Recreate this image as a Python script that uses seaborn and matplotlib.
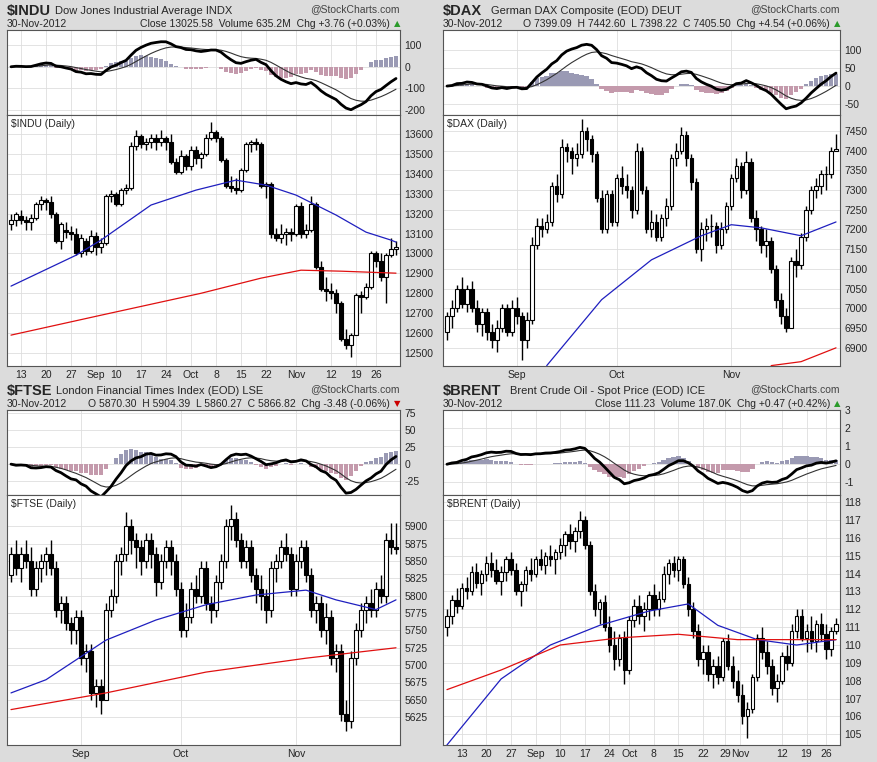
import numpy as np
import pandas as pd
import matplotlib
matplotlib.use("Agg")
import matplotlib.pyplot as plt
import seaborn as sns

sns.set_theme(style="white")
plt.rcParams['font.family'] = ['Liberation Sans', 'DejaVu Sans']

# ---- data (o, h, l, c) ----
indu_ohlc = [
    (13150,13200,13120,13170),(13170,13210,13140,13200),(13190,13220,13150,13170),(13170,13190,13120,13160),
    (13160,13200,13120,13180),(13180,13260,13170,13250),(13250,13290,13220,13270),
    (13270,13280,13220,13260),(13260,13290,13180,13200),(13200,13210,13050,13060),(13060,13160,13020,13150),(13120,13160,13080,13110),
    (13110,13140,13070,13100),(13100,13130,12990,13000),(13000,13100,12980,13080),(13060,13080,12990,13010),(13010,13120,13000,13090),
    (13090,13110,12990,13030),(13030,13080,13000,13050),(13050,13300,13040,13290),(13290,13320,13260,13300),
    (13300,13310,13240,13250),(13250,13330,13240,13320),(13320,13350,13300,13330),(13330,13560,13320,13540),(13540,13620,13520,13590),
    (13590,13600,13530,13550),(13550,13580,13520,13560),(13560,13600,13530,13580),(13580,13600,13520,13560),(13560,13620,13540,13580),
    (13580,13590,13520,13560),(13560,13600,13450,13460),(13460,13480,13400,13410),(13410,13520,13400,13490),(13490,13500,13420,13440),
    (13440,13540,13420,13520),(13520,13540,13450,13480),(13480,13510,13430,13500),(13500,13600,13490,13580),(13580,13660,13570,13610),
    (13610,13620,13560,13580),(13580,13590,13460,13470),(13470,13480,13330,13340),(13340,13390,13310,13330),(13330,13380,13300,13320),
    (13320,13430,13310,13420),(13420,13560,13410,13550),(13550,13570,13510,13560),(13560,13580,13520,13550),(13550,13560,13330,13340),
    (13340,13360,13280,13350),(13350,13360,13080,13100),(13100,13130,13060,13080),(13080,13150,13050,13100),(13100,13130,13040,13110),
    (13110,13130,13060,13100),
    (13100,13250,13090,13240),(13240,13260,13080,13100),(13100,13150,13080,13120),(13120,13290,13110,13250),
    (13250,13260,12920,12930),(12930,12960,12810,12820),(12820,12880,12760,12810),(12810,12850,12770,12800),
    (12800,12820,12700,12750),(12750,12760,12560,12570),(12570,12620,12520,12540),(12540,12600,12480,12590),
    (12590,12800,12590,12790),(12790,12810,12700,12780),(12780,12850,12770,12830),
    (12830,13010,12820,13000),
    (13000,13010,12930,12960),(12960,13000,12860,12880),(12880,13000,12750,12990),(12990,13080,12980,13020),(13020,13060,12990,13030),
]
dax_ohlc = [
    (6940,6990,6920,6980),(6980,7020,6950,7000),(7000,7060,6990,7050),(7050,7080,7000,7010),(7010,7060,6990,7050),
    (7050,7070,6990,7000),(7000,7020,6940,6960),(6960,7000,6930,6990),(6990,7000,6920,6940),(6940,6960,6900,6920),
    (6920,6970,6890,6950),(6950,7010,6940,7000),(7000,7010,6930,6940),(6940,7020,6930,7000),(7000,7030,6960,6980),
    (6980,6990,6870,6920),(6920,6990,6900,6970),(6970,7180,6960,7160),(7160,7230,7150,7210),(7210,7230,7180,7200),
    (7200,7240,7190,7220),(7220,7320,7210,7310),(7310,7340,7270,7290),(7290,7430,7280,7410),(7410,7420,7370,7400),
    (7400,7410,7340,7380),(7380,7420,7360,7390),(7390,7480,7380,7450),(7450,7460,7400,7430),(7430,7440,7370,7390),
    (7390,7400,7270,7280),(7280,7300,7190,7200),(7200,7300,7190,7290),(7290,7300,7210,7220),(7220,7340,7210,7330),
    (7330,7360,7290,7310),(7310,7340,7280,7300),(7300,7310,7230,7250),(7250,7420,7240,7400),(7400,7410,7290,7300),
    (7300,7310,7190,7200),(7200,7250,7180,7220),(7220,7240,7170,7180),(7180,7240,7170,7230),(7230,7280,7210,7260),
    (7260,7390,7250,7380),(7380,7420,7360,7400),(7400,7460,7390,7440),(7440,7450,7360,7380),(7380,7390,7300,7320),
    (7320,7330,7140,7150),(7150,7220,7120,7200),(7200,7230,7170,7210),(7210,7240,7180,7210),(7210,7220,7140,7160),
    (7160,7220,7150,7200),(7200,7270,7190,7260),(7260,7340,7250,7330),(7330,7380,7320,7360),(7360,7370,7280,7300),
    (7300,7400,7290,7370),(7370,7380,7220,7230),(7230,7250,7170,7200),(7200,7210,7140,7160),(7160,7200,7130,7170),
    (7170,7180,7090,7100),(7100,7110,7000,7020),(7020,7040,6960,6980),(6980,7000,6940,6950),(6950,7130,6950,7120),
    (7120,7150,7080,7110),(7110,7190,7100,7180),(7180,7260,7170,7250),(7250,7310,7240,7300),(7300,7330,7280,7310),
    (7310,7350,7290,7340),(7340,7360,7300,7340),(7340,7410,7330,7400),(7400,7443,7398,7405),
]
ftse_ohlc = [
    (5830,5870,5820,5860),(5860,5880,5830,5840),(5840,5870,5820,5860),(5860,5880,5840,5850),(5850,5870,5800,5810),
    (5810,5850,5800,5840),(5840,5860,5820,5850),(5850,5870,5830,5860),(5860,5880,5830,5840),(5840,5850,5770,5780),
    (5780,5800,5760,5790),(5790,5800,5750,5760),(5760,5770,5730,5750),(5750,5780,5730,5770),(5770,5780,5700,5710),
    (5710,5730,5690,5720),(5720,5730,5650,5660),(5660,5680,5640,5670),(5670,5680,5630,5650),(5650,5790,5650,5780),
    (5780,5810,5770,5800),(5800,5860,5790,5850),(5850,5870,5830,5860),(5860,5920,5850,5900),(5900,5910,5860,5880),
    (5880,5890,5840,5870),(5870,5880,5830,5850),(5850,5890,5840,5880),(5880,5890,5840,5860),(5860,5870,5800,5820),
    (5820,5860,5810,5850),(5850,5880,5840,5870),(5870,5880,5830,5850),(5850,5860,5800,5810),(5810,5820,5740,5750),
    (5750,5790,5740,5770),(5770,5820,5760,5810),(5810,5830,5790,5800),(5800,5850,5790,5840),(5840,5850,5780,5790),
    (5790,5800,5760,5780),(5780,5830,5770,5820),(5820,5860,5810,5850),(5850,5910,5840,5900),(5900,5930,5880,5910),
    (5910,5920,5870,5880),(5880,5890,5840,5850),(5850,5880,5840,5870),(5870,5880,5820,5830),(5830,5840,5790,5810),
    (5810,5830,5780,5800),(5800,5810,5760,5780),(5780,5850,5770,5840),(5840,5860,5820,5850),(5850,5880,5840,5870),
    (5870,5890,5850,5860),(5860,5870,5800,5810),(5810,5860,5800,5850),(5850,5880,5840,5870),(5870,5880,5820,5830),
    (5830,5840,5770,5780),(5780,5800,5760,5790),(5790,5800,5740,5750),(5750,5790,5730,5770),(5770,5780,5700,5710),
    (5710,5730,5690,5720),(5720,5730,5620,5630),(5630,5650,5605,5620),(5620,5720,5610,5710),(5710,5760,5700,5750),
    (5750,5790,5740,5780),(5780,5800,5760,5790),(5790,5810,5770,5780),(5780,5820,5770,5810),(5810,5830,5790,5800),
    (5800,5890,5790,5880),(5880,5905,5860,5870),(5870,5904,5860,5867),
]
brent_ohlc = [
    (111.0,112.0,110.5,111.6),(111.6,112.8,111.2,112.5),(112.5,113.2,111.8,112.2),(112.2,113.5,112.0,113.2),
    (113.2,113.8,112.6,113.0),(113.0,114.4,112.8,114.1),(114.1,114.6,113.2,113.5),(113.5,114.2,112.8,114.0),
    (114.0,115.0,113.6,114.6),(114.6,115.2,113.8,114.2),(114.2,114.8,113.4,113.6),(113.6,114.4,112.8,114.1),
    (114.1,115.0,113.6,114.8),(114.8,115.2,113.9,114.2),(114.2,114.6,112.8,113.0),(113.0,113.6,112.2,113.4),
    (113.4,114.4,113.0,114.2),(114.2,114.9,113.6,114.0),(114.0,115.0,113.8,114.8),(114.8,115.4,114.2,114.5),
    (114.5,115.2,114.0,115.0),(115.0,115.6,114.4,114.8),(114.8,115.4,114.0,115.2),(115.2,116.0,114.8,115.6),
    (115.6,116.4,115.0,116.2),(116.2,116.8,115.4,115.8),(115.8,116.6,115.2,116.4),(116.4,117.5,116.0,117.0),
    (117.0,117.2,115.4,115.6),(115.6,115.8,112.8,113.0),(113.0,113.4,111.6,112.0),(112.0,112.6,111.2,112.4),
    (112.4,112.8,110.8,111.0),(111.0,111.6,109.6,110.0),(110.0,110.8,108.6,109.2),(109.2,110.6,108.8,110.4),
    (110.4,110.8,107.8,108.6),(108.6,111.6,108.4,111.4),(111.4,112.6,111.0,112.2),(112.2,112.8,111.2,111.6),
    (111.6,112.4,110.8,112.0),(112.0,113.0,111.4,112.8),(112.8,113.4,111.6,112.0),(112.0,113.0,111.6,112.6),
    (112.6,114.4,112.4,114.0),(114.0,114.8,113.4,114.6),(114.6,115.0,113.8,114.2),(114.2,115.0,113.6,114.8),
    (114.8,115.0,113.2,113.4),(113.4,113.8,111.6,112.0),(112.0,112.4,110.4,110.8),(110.8,111.2,108.8,109.2),
    (109.2,110.0,108.4,109.6),(109.6,110.0,108.0,108.4),(108.4,109.2,107.6,108.8),(108.8,109.4,107.8,108.2),
    (108.2,110.4,108.0,110.2),(110.2,110.6,108.6,108.8),(108.8,109.4,107.6,108.0),(108.0,108.6,106.8,107.2),
    (107.2,107.8,105.6,106.0),(106.0,106.8,104.8,106.4),(106.4,108.4,106.2,108.2),(108.2,110.6,108.0,110.4),
    (110.4,111.0,109.2,109.6),(109.6,110.2,108.4,108.8),(108.8,109.2,107.2,107.6),(107.6,108.4,106.8,108.0),
    (108.0,109.6,107.8,109.4),(109.4,110.0,108.6,109.0),(109.0,111.2,108.8,110.8),(110.8,112.0,110.4,111.6),
    (111.6,112.0,110.2,110.4),(110.4,111.2,109.6,110.8),(110.8,111.6,109.8,110.2),(110.2,111.4,109.6,111.2),
    (111.2,111.8,110.2,110.6),(110.6,111.2,109.2,109.8),(109.8,111.0,109.4,110.8),(110.8,111.5,110.6,111.2),
]

# moving averages (index, value)
indu_ma50 = [(0,12836),(13,12991),(18,13067),(28,13243),(37,13318),(45,13368),(51,13343),(57,13293),(65,13193),(71,13107),(76,13067),(77,13057)]
indu_ma200 = [(0,12590),(18,12690),(38,12800),(50,12876),(58,12916),(66,12911),(77,12901)]
dax_ma50 = [(20,6855),(31,7022),(41,7123),(51,7184),(57,7212),(63,7204),(67,7194),(71,7184),(78,7219)]
dax_ma200 = [(65,6855),(71,6865),(78,6900)]
ftse_ma50 = [(0,5660),(7,5679),(19,5736),(29,5765),(39,5787),(49,5801),(59,5808),(65,5794),(73,5780),(77,5794)]
ftse_ma200 = [(0,5636),(19,5660),(39,5690),(59,5710),(77,5725)]
brent_ma50 = [(0,104.4),(11,108.1),(21,110.0),(31,111.1),(41,111.9),(49,112.3),(55,111.1),(63,110.3),(71,110.0),(79,110.3)]
brent_ma200 = [(0,107.5),(11,108.6),(23,110.0),(35,110.4),(47,110.6),(59,110.3),(79,110.3)]

indu_xt = [(2,'13'),(7,'20'),(12,'27'),(17,'Sep'),(21,'10'),(26,'17'),(31,'24'),(36,'Oct'),(41,'8'),(46,'15'),(51,'22'),(57,'Nov'),(64,'12'),(69,'19'),(73,'26')]
dax_xt = [(14,'Sep'),(34,'Oct'),(57,'Nov')]
ftse_xt = [(14,'Sep'),(34,'Oct'),(57,'Nov')]
brent_xt = [(3,'13'),(8,'20'),(13,'27'),(18,'Sep'),(23,'10'),(28,'17'),(33,'24'),(37,'Oct'),(42,'8'),(47,'15'),(52,'22'),(56.5,'29'),(59.5,'Nov'),(68,'12'),(73,'19'),(77,'26')]

panels = [
    dict(sym='$INDU', name='Dow Jones Industrial Average', exch='INDX', noff=48,
         info='Close 13025.58  Volume 635.2M  Chg +3.76 (+0.03%)', up=True,
         ohlc=indu_ohlc, ma50=indu_ma50, ma200=indu_ma200, xt=indu_xt,
         ylim=(12435, 13695), yt=np.arange(12500, 13601, 100),
         mlim=(-223, 170), mt=[100, 0, -100, -200], x0=7, x1=400, top=0),
    dict(sym='$DAX', name='German DAX Composite (EOD)', exch='DEUT', noff=48,
         info='O 7399.09  H 7442.60  L 7398.22  C 7405.50  Chg +4.54 (+0.06%)', up=True,
         ohlc=dax_ohlc, ma50=dax_ma50, ma200=dax_ma200, xt=dax_xt,
         ylim=(6854, 7490), yt=np.arange(6900, 7451, 50),
         mlim=(-81, 157), mt=[100, 50, 0, -50], x0=443, x1=840, top=0),
    dict(sym='$FTSE', name='London Financial Times Index (EOD)', exch='LSE', noff=49,
         info='O 5870.30  H 5904.39  L 5860.27  C 5866.82  Chg -3.48 (-0.06%)', up=False,
         ohlc=ftse_ohlc, ma50=ftse_ma50, ma200=ftse_ma200, xt=ftse_xt,
         ylim=(5585, 5945), yt=np.arange(5625, 5901, 25),
         mlim=(-45, 79), mt=[75, 50, 25, 0, -25], x0=7, x1=400, top=380),
    dict(sym='$BRENT', name='Brent Crude Oil - Spot Price (EOD)', exch='ICE', noff=67,
         info='Close 111.23  Volume 187.0K  Chg +0.47 (+0.42%)', up=True,
         ohlc=brent_ohlc, ma50=brent_ma50, ma200=brent_ma200, xt=brent_xt,
         ylim=(104.4, 118.4), yt=np.arange(105, 119, 1),
         mlim=(-1.7, 3.0), mt=[3, 2, 1, 0, -1], x0=443, x1=840, top=380),
]

W, H = 877, 762
fig = plt.figure(figsize=(W / 100, H / 100), dpi=100)
fig.patch.set_facecolor('#dcdcdc')


def box(x0, y0, x1, y1):
    return [x0 / W, 1 - y1 / H, (x1 - x0) / W, (y1 - y0) / H]


def fmt(v):
    return f'{v:g}'


for p in panels:
    df = pd.DataFrame(p['ohlc'], columns=['o', 'h', 'l', 'c'])
    df['i'] = np.arange(len(df))
    n = len(df)
    t = p['top']
    # header
    fig.text(p['x0'] / W, 1 - (t + 11) / H, p['sym'], fontsize=10.5, fontweight='bold', va='center')
    fig.text((p['x0'] + p['noff']) / W, 1 - (t + 11) / H,
             f"{p['name']} {p['exch']}", fontsize=8, va='center')
    fig.text(p['x1'] / W, 1 - (t + 9) / H, '@StockCharts.com', fontsize=7.5, ha='right',
             va='center', color='#444444')
    fig.text(p['x0'] / W, 1 - (t + 24) / H, '30-Nov-2012', fontsize=7.5, va='center')
    fig.text((p['x1'] - 10) / W, 1 - (t + 24) / H, p['info'], fontsize=7.5, ha='right', va='center')
    fig.text(p['x1'] / W, 1 - (t + 24) / H, '▲' if p['up'] else '▼', fontsize=6, ha='right',
             va='center', color='#2a9a2a' if p['up'] else '#cc0000', family='DejaVu Sans')

    # MACD
    ema12 = df['c'].ewm(span=12, adjust=False).mean()
    ema26 = df['c'].ewm(span=26, adjust=False).mean()
    df['macd'] = ema12 - ema26
    df['sig'] = df['macd'].ewm(span=9, adjust=False).mean()
    df['hist'] = df['macd'] - df['sig']
    axm = fig.add_axes(box(p['x0'], t + 30, p['x1'], t + 115))
    axm.bar(df['i'], df['hist'], width=0.9,
            color=np.where(df['hist'] >= 0, '#9a9ab4', '#c49aac'), edgecolor='none')
    sns.lineplot(x=df['i'], y=df['sig'], ax=axm, color='#333333', lw=0.8)
    sns.lineplot(x=df['i'], y=df['macd'], ax=axm, color='black', lw=2)
    axm.set_ylim(*p['mlim'])
    axm.set_yticks(p['mt'])
    axm.set_yticklabels([fmt(v) for v in p['mt']])

    # price
    axp = fig.add_axes(box(p['x0'], t + 115, p['x1'], t + 366 if t == 0 else t + 365))
    up = df['c'] >= df['o']
    axp.vlines(df['i'], df['l'], df['h'], color='black', lw=1, zorder=2)
    axp.bar(df['i'][up], (df['c'] - df['o'])[up], bottom=df['o'][up], width=0.7,
            color='white', edgecolor='black', lw=0.8, zorder=3)
    axp.bar(df['i'][~up], (df['o'] - df['c'])[~up], bottom=df['c'][~up], width=0.7,
            color='black', edgecolor='black', lw=0.8, zorder=3)
    m50 = pd.DataFrame(p['ma50'], columns=['i', 'v'])
    m200 = pd.DataFrame(p['ma200'], columns=['i', 'v'])
    sns.lineplot(data=m50, x='i', y='v', ax=axp, color='#1f1fbf', lw=0.9, zorder=4)
    sns.lineplot(data=m200, x='i', y='v', ax=axp, color='#e01010', lw=0.9, zorder=4)
    axp.set_ylim(*p['ylim'])
    axp.set_yticks(p['yt'])
    axp.set_yticklabels([fmt(v) for v in p['yt']])
    axp.text(0.01, 0.985, f"{p['sym']} (Daily)", transform=axp.transAxes, fontsize=7.5,
             va='top', ha='left')
    xi = [a for a, b in p['xt']]
    xl = [b for a, b in p['xt']]
    for ax in (axm, axp):
        ax.set_facecolor('white')
        ax.set_xlim(-0.8, n - 0.2)
        ax.set_xlabel('')
        ax.set_ylabel('')
        ax.yaxis.tick_right()
        ax.set_xticks(xi)
        ax.grid(True, color='#dedede', lw=0.6, zorder=0)
        ax.set_axisbelow(True)
        ax.tick_params(axis='both', labelsize=7.5, length=0, pad=3)
        for s in ax.spines.values():
            s.set_color('#555555')
            s.set_linewidth(0.8)
    axm.set_xticklabels([])
    axp.set_xticklabels(xl)

fig.savefig('out.png', dpi=100, facecolor=fig.get_facecolor())
